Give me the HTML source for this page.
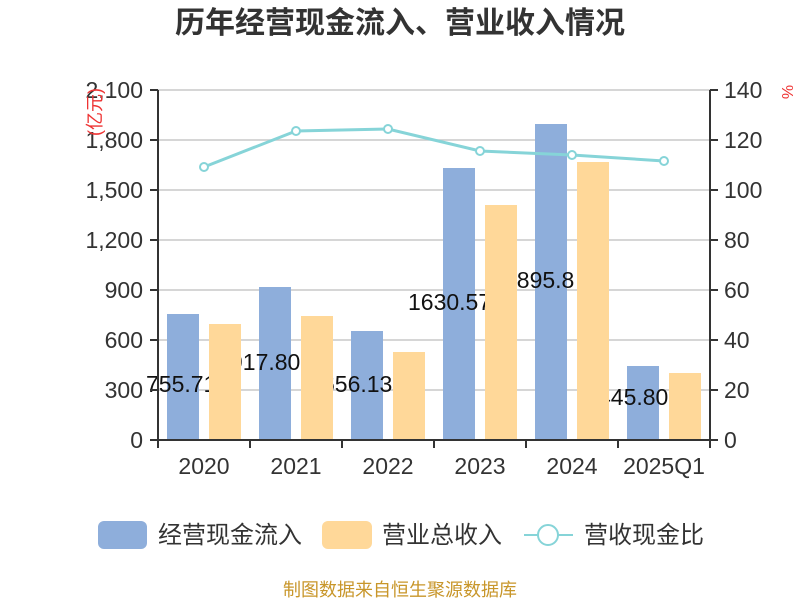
<!DOCTYPE html>
<html><head><meta charset="utf-8"><style>
body{margin:0;background:#fff;}
svg{display:block;font-family:"Liberation Sans","Noto Sans CJK SC",sans-serif;}
</style></head><body>
<svg width="800" height="600" viewBox="0 0 800 600">
<text x="400" y="33" text-anchor="middle" font-size="30" font-weight="bold" fill="#333">历年经营现金流入、营业收入情况</text>
<g stroke="#c8c8c8" stroke-width="1.5">
<line x1="158" y1="90" x2="710" y2="90"/><line x1="158" y1="140" x2="710" y2="140"/>
<line x1="158" y1="190" x2="710" y2="190"/><line x1="158" y1="240" x2="710" y2="240"/>
<line x1="158" y1="290" x2="710" y2="290"/><line x1="158" y1="340" x2="710" y2="340"/>
<line x1="158" y1="390" x2="710" y2="390"/>
</g>
<g fill="#8eaedb">
<rect x="167" y="314" width="32" height="126"/><rect x="259" y="287" width="32" height="153"/>
<rect x="351" y="331" width="32" height="109"/><rect x="443" y="168" width="32" height="272"/>
<rect x="535" y="124" width="32" height="316"/><rect x="627" y="366" width="32" height="74"/>
</g>
<g font-size="23" fill="#111">
<text x="146" y="392">755.71</text><text x="230" y="370">917.80</text>
<text x="322" y="392">656.13</text><text x="408" y="310">1630.57</text>
<text x="504" y="288">1895.8</text><text x="598" y="405">445.80</text>
</g>
<g fill="#ffd899">
<rect x="209" y="324" width="32" height="116"/><rect x="301" y="316" width="32" height="124"/>
<rect x="393" y="352" width="32" height="88"/><rect x="485" y="205" width="32" height="235"/>
<rect x="577" y="162" width="32" height="278"/><rect x="669" y="373" width="32" height="67"/>
</g>
<polyline points="204,167 296,131 388,129 480,151 572,155 664,161" fill="none" stroke="#86d4d8" stroke-width="3"/>
<g fill="#fff" stroke="#86d4d8" stroke-width="2">
<circle cx="204" cy="167" r="4"/><circle cx="296" cy="131" r="4"/><circle cx="388" cy="129" r="4"/>
<circle cx="480" cy="151" r="4"/><circle cx="572" cy="155" r="4"/><circle cx="664" cy="161" r="4"/>
</g>
<g stroke="#333" stroke-width="2" fill="none">
<line x1="158" y1="90" x2="158" y2="441"/><line x1="710" y1="90" x2="710" y2="441"/>
<line x1="150" y1="440" x2="718" y2="440"/>
<path d="M150 90H158M150 140H158M150 190H158M150 240H158M150 290H158M150 340H158M150 390H158"/>
<path d="M710 90H718M710 140H718M710 190H718M710 240H718M710 290H718M710 340H718M710 390H718"/>
<path d="M158 440V448M250 440V448M342 440V448M434 440V448M526 440V448M618 440V448M710 440V448"/>
</g>
<g font-size="23" fill="#333" text-anchor="end">
<text x="143" y="98">2,100</text><text x="143" y="148">1,800</text><text x="143" y="198">1,500</text>
<text x="143" y="248">1,200</text><text x="143" y="298">900</text><text x="143" y="348">600</text>
<text x="143" y="398">300</text><text x="143" y="448">0</text>
</g>
<g font-size="23" fill="#333">
<text x="724" y="98">140</text><text x="724" y="148">120</text><text x="724" y="198">100</text>
<text x="724" y="248">80</text><text x="724" y="298">60</text><text x="724" y="348">40</text>
<text x="724" y="398">20</text><text x="724" y="448">0</text>
</g>
<g font-size="23" fill="#333" text-anchor="middle">
<text x="204" y="474">2020</text><text x="296" y="474">2021</text><text x="388" y="474">2022</text>
<text x="480" y="474">2023</text><text x="572" y="474">2024</text><text x="664" y="474">2025Q1</text>
</g>
<text transform="translate(101,112) rotate(-90)" font-size="18" fill="#e33" text-anchor="middle">(亿元)</text>
<text transform="translate(782,92) rotate(90)" font-size="16" fill="#e33" text-anchor="middle">%</text>
<rect x="98" y="521" width="49" height="28" rx="6" fill="#8eaedb"/>
<text x="158" y="543" font-size="24" fill="#333">经营现金流入</text>
<rect x="322" y="521" width="50" height="28" rx="6" fill="#ffd899"/>
<text x="382" y="543" font-size="24" fill="#333">营业总收入</text>
<line x1="524" y1="535" x2="573" y2="535" stroke="#86d4d8" stroke-width="2"/>
<circle cx="548" cy="535" r="10" fill="#fff" stroke="#86d4d8" stroke-width="2"/>
<text x="584" y="543" font-size="24" fill="#333">营收现金比</text>
<text x="400" y="596" text-anchor="middle" font-size="18" fill="#c8962a">制图数据来自恒生聚源数据库</text>
</svg>
</body></html>
